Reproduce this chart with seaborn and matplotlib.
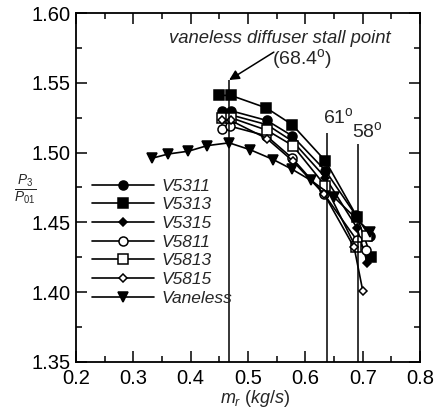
import numpy as np
import pandas as pd
import matplotlib
matplotlib.use("Agg")
import matplotlib.pyplot as plt
from matplotlib.ticker import MultipleLocator
import seaborn as sns

sns.set_theme(style="ticks")
plt.rcParams["font.family"] = ["Liberation Sans", "DejaVu Sans"]
plt.rcParams["mathtext.fontset"] = "custom"
plt.rcParams["mathtext.it"] = "Liberation Sans:italic"
plt.rcParams["mathtext.rm"] = "Liberation Sans"

# Mass flow rate (kg/s) and pressure ratio P3/P01 for each diffuser
v5311_m = [0.455, 0.470, 0.533, 0.577, 0.635, 0.688, 0.712]
v5311_p = [1.530, 1.530, 1.523, 1.512, 1.487, 1.455, 1.440]
v5313_m = [0.450, 0.470, 0.532, 0.577, 0.635, 0.690, 0.715]
v5313_p = [1.541, 1.541, 1.532, 1.520, 1.494, 1.454, 1.425]
v5315_m = [0.455, 0.470, 0.533, 0.578, 0.635, 0.690, 0.708]
v5315_p = [1.527, 1.527, 1.520, 1.508, 1.482, 1.446, 1.421]
v5811_m = [0.455, 0.468, 0.532, 0.577, 0.633, 0.690, 0.705]
v5811_p = [1.517, 1.519, 1.512, 1.496, 1.470, 1.437, 1.430]
v5813_m = [0.455, 0.470, 0.533, 0.578, 0.635, 0.688, 0.708]
v5813_p = [1.525, 1.525, 1.516, 1.505, 1.476, 1.432, 1.440]
v5815_m = [0.455, 0.470, 0.533, 0.578, 0.633, 0.685, 0.700]
v5815_p = [1.523, 1.523, 1.510, 1.494, 1.470, 1.432, 1.401]
vaneless_m = [0.333, 0.361, 0.396, 0.429, 0.467, 0.504, 0.544, 0.577, 0.610, 0.650, 0.713]
vaneless_p = [1.496, 1.499, 1.501, 1.505, 1.507, 1.502, 1.495, 1.488, 1.480, 1.468, 1.443]

series = [
    ("V5311", v5311_m, v5311_p, "o", "black", 6.5),
    ("V5313", v5313_m, v5313_p, "s", "black", 7.0),
    ("V5315", v5315_m, v5315_p, "D", "black", 4.5),
    ("V5811", v5811_m, v5811_p, "o", "white", 6.5),
    ("V5813", v5813_m, v5813_p, "s", "white", 6.5),
    ("V5815", v5815_m, v5815_p, "D", "white", 4.5),
    ("Vaneless", vaneless_m, vaneless_p, "v", "black", 7.0),
]

# Stall-line positions (flow angle labels)
stall_m = [0.467, 0.637, 0.692]
stall_top = [1.552, 1.514, 1.506]

fig = plt.figure(figsize=(4.39, 4.08), dpi=100)
ax = fig.add_axes([0.173, 0.113, 0.784, 0.855])

for name, m, p, mk, fc, ms in series:
    df = pd.DataFrame({"m": m, "p": p})
    sns.lineplot(data=df, x="m", y="p", ax=ax, color="black", lw=1.2,
                 marker=mk, markersize=ms, markerfacecolor=fc,
                 markeredgecolor="black", markeredgewidth=1.1,
                 sort=False, label=name)

ax.vlines(stall_m, 1.35, stall_top, color="black", lw=1.1)

ax.set_xlim(0.2, 0.8)
ax.set_ylim(1.35, 1.60)
ax.xaxis.set_major_locator(MultipleLocator(0.1))
ax.xaxis.set_minor_locator(MultipleLocator(0.05))
ax.yaxis.set_major_locator(MultipleLocator(0.05))
ax.yaxis.set_minor_locator(MultipleLocator(0.025))
ax.set_xticklabels([f"{v:.1f}" for v in ax.get_xticks()])
ax.set_yticklabels([f"{v:.2f}" for v in ax.get_yticks()])
ax.tick_params(which="both", direction="in", top=True, right=True,
               labelsize=14.5, colors="black", width=1.1)
ax.tick_params(which="major", length=8)
ax.tick_params(axis="x", which="major", pad=5)
ax.tick_params(axis="y", which="major", pad=4)
ax.tick_params(which="minor", length=4.5)
for s in ax.spines.values():
    s.set_linewidth(1.3)
    s.set_color("black")

ax.set_xlabel("$m_r$ $\\it{(kg/s)}$", fontsize=13, labelpad=0)
ax.xaxis.set_label_coords(0.52, -0.074)
ax.set_ylabel("")
fig.text(0.058, 0.535, "$\\frac{P_3}{P_{01}}$", fontsize=14, ha="center", va="center")

ax.annotate("", xy=(0.467, 1.552), xytext=(0.545, 1.572),
            arrowprops=dict(arrowstyle="-|>", color="black", lw=1.1,
                            mutation_scale=15, shrinkA=0, shrinkB=0))
ax.text(0.362, 1.582, "vaneless diffuser stall point", fontsize=13.3,
        style="italic", ha="left", va="center")
ax.text(0.542, 1.567, "(68.4$^\\mathrm{o}$)", fontsize=14, ha="left", va="center")
ax.text(0.630, 1.518, "61$^\\mathrm{o}$", fontsize=14, ha="left", va="bottom")
ax.text(0.682, 1.508, "58$^\\mathrm{o}$", fontsize=14, ha="left", va="bottom")

leg = ax.legend(loc="upper left", bbox_to_anchor=(0.01, 0.56), frameon=False,
                handlelength=3.6, handletextpad=0.45, labelspacing=0.2,
                borderpad=0.2, fontsize=12.5)
for t in leg.get_texts():
    t.set_fontstyle("italic")

fig.savefig("out.png", dpi=100)
